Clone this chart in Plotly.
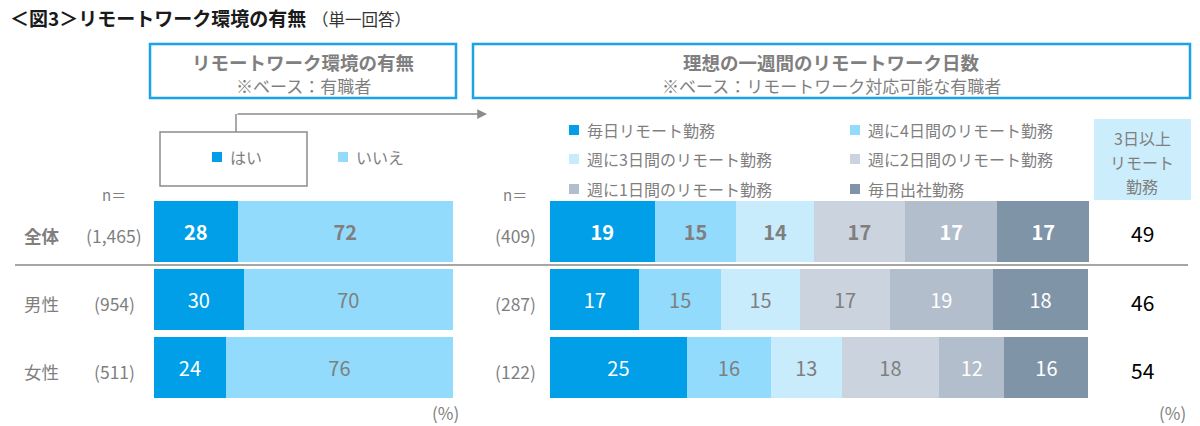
import plotly.graph_objects as go

W, H = 1200, 426
FONT = "Noto Sans CJK JP"
GRAY = "#7f7f7f"

# ---------------- data ----------------
rows = ["全体", "男性", "女性"]
n_left = ["(1,465)", "(954)", "(511)"]
n_right = ["(409)", "(287)", "(122)"]

left_series = ["はい", "いいえ"]
left_values = [[28, 30, 24], [72, 70, 76]]
left_colors = ["#009FE8", "#93DBFC"]
left_text_colors = ["#ffffff", GRAY]

right_series = ["毎日リモート勤務", "週に4日間のリモート勤務", "週に3日間のリモート勤務",
                "週に2日間のリモート勤務", "週に1日間のリモート勤務", "毎日出社勤務"]
right_values = [
    [19.4, 16.6, 25.4],
    [15.2, 15.1, 15.6],
    [14.3, 14.7, 13.1],
    [17.0, 16.7, 18.1],
    [17.1, 19.0, 12.1],
    [17.0, 17.8, 15.6],
]
right_labels = [[19, 17, 25], [15, 15, 16], [14, 15, 13], [17, 17, 18], [17, 19, 12], [17, 18, 16]]
right_colors = ["#009FE8", "#93DBFC", "#C9ECFD", "#CBD4DE", "#B2BECB", "#8094A8"]
right_text_colors = ["#ffffff", GRAY, GRAY, GRAY, "#ffffff", "#ffffff"]

three_plus = [49, 46, 54]
three_plus_header = ["3日以上", "リモート", "勤務"]

title_main = "＜図3＞リモートワーク環境の有無"
title_sub = "（単一回答）"
left_header = ["リモートワーク環境の有無", "※ベース：有職者"]
right_header = ["理想の一週間のリモートワーク日数", "※ベース：リモートワーク対応可能な有職者"]


def px(x):
    return x / W


def py(y):
    return 1 - y / H


def fmt(v, i):
    return f"<b>{v}</b>" if i == 0 else str(v)


fig = go.Figure()

for s, name in enumerate(left_series):
    fig.add_trace(go.Bar(
        y=rows, x=left_values[s], orientation="h", name=name,
        marker=dict(color=left_colors[s], line=dict(width=0)),
        text=[fmt(v, i) for i, v in enumerate(left_values[s])],
        textposition="inside", insidetextanchor="middle", textangle=0,
        constraintext="none",
        textfont=dict(family=FONT, size=20, color=left_text_colors[s]),
        xaxis="x", yaxis="y", showlegend=False, hoverinfo="skip",
    ))

for s, name in enumerate(right_series):
    fig.add_trace(go.Bar(
        y=rows, x=right_values[s], orientation="h", name=name,
        marker=dict(color=right_colors[s], line=dict(width=0)),
        text=[fmt(v, i) for i, v in enumerate(right_labels[s])],
        textposition="inside", insidetextanchor="middle", textangle=0,
        constraintext="none",
        textfont=dict(family=FONT, size=20, color=right_text_colors[s]),
        xaxis="x2", yaxis="y", showlegend=False, hoverinfo="skip",
    ))

shapes = []
ann = []

# title
ann.append(dict(text=f"<b>{title_main}</b>", x=px(8), y=py(18), xref="paper", yref="paper",
                xanchor="left", yanchor="middle", showarrow=False,
                font=dict(family=FONT, size=19, color="#1a1a1a")))
ann.append(dict(text=title_sub, x=px(310), y=py(19), xref="paper", yref="paper",
                xanchor="left", yanchor="middle", showarrow=False,
                font=dict(family=FONT, size=16.5, color="#333333")))

# header boxes
for (x0, x1, lines) in [(150, 456, left_header), (473, 1190, right_header)]:
    shapes.append(dict(type="rect", xref="paper", yref="paper", x0=px(x0), x1=px(x1),
                       y0=py(98), y1=py(44), line=dict(color="#1AA3E8", width=2.5),
                       fillcolor="rgba(0,0,0,0)"))
    cx = (x0 + x1) / 2
    ann.append(dict(text=f"<b>{lines[0]}</b>", x=px(cx), y=py(62), xref="paper", yref="paper",
                    xanchor="center", yanchor="middle", showarrow=False,
                    font=dict(family=FONT, size=18.5, color=GRAY)))
    ann.append(dict(text=lines[1], x=px(cx), y=py(85), xref="paper", yref="paper",
                    xanchor="center", yanchor="middle", showarrow=False,
                    font=dict(family=FONT, size=17, color=GRAY)))

# left legend box and arrow
shapes.append(dict(type="rect", xref="paper", yref="paper", x0=px(160), x1=px(307),
                   y0=py(186), y1=py(132), line=dict(color="#8c8c8c", width=1.5)))
shapes.append(dict(type="line", xref="paper", yref="paper", x0=px(236), x1=px(236),
                   y0=py(132), y1=py(114), line=dict(color="#8c8c8c", width=1.5)))
ann.append(dict(text="", x=px(487), y=py(114), xref="paper", yref="paper",
                ax=-(487 - 236), ay=0, showarrow=True, arrowhead=2, arrowsize=1.3,
                arrowwidth=1.5, arrowcolor="#8c8c8c"))

# left legend entries
for s, (sqx, tx) in enumerate([(212, 228), (338, 354)]):
    shapes.append(dict(type="rect", xref="paper", yref="paper", x0=px(sqx), x1=px(sqx + 10),
                       y0=py(162), y1=py(152), fillcolor=left_colors[s], line=dict(width=0)))
    ann.append(dict(text=left_series[s], x=px(tx), y=py(157), xref="paper", yref="paper",
                    xanchor="left", yanchor="middle", showarrow=False,
                    font=dict(family=FONT, size=16, color=GRAY)))

# right legend entries (2 columns x 3 rows)
col_x = [569, 850]
row_y = [130, 159, 189]
for s, name in enumerate(right_series):
    c, r = s % 2, s // 2
    sqx, yc = col_x[c], row_y[r]
    shapes.append(dict(type="rect", xref="paper", yref="paper", x0=px(sqx), x1=px(sqx + 10),
                       y0=py(yc + 5), y1=py(yc - 5), fillcolor=right_colors[s], line=dict(width=0)))
    ann.append(dict(text=name, x=px(sqx + 16), y=py(yc), xref="paper", yref="paper",
                    xanchor="left", yanchor="middle", showarrow=False,
                    font=dict(family=FONT, size=16, color=GRAY)))

# 3日以上 header box
shapes.append(dict(type="rect", xref="paper", yref="paper", x0=px(1094), x1=px(1191),
                   y0=py(200), y1=py(119), fillcolor="#CCEEFC", line=dict(width=0)))
for k, line in enumerate(three_plus_header):
    ann.append(dict(text=line, x=px(1142), y=py(138 + 24 * k), xref="paper", yref="paper",
                    xanchor="center", yanchor="middle", showarrow=False, borderpad=0,
                    font=dict(family=FONT, size=16, color=GRAY)))

# n= labels
for x in [114, 515]:
    ann.append(dict(text="n＝", x=px(x), y=py(194), xref="paper", yref="paper",
                    xanchor="center", yanchor="middle", showarrow=False,
                    font=dict(family=FONT, size=15, color=GRAY)))

# row labels
for i, r in enumerate(rows):
    ann.append(dict(text=fmt(r, i), x=px(22), y=r, xref="paper", yref="y",
                    xanchor="left", yanchor="middle", showarrow=False, yshift=-4,
                    font=dict(family=FONT, size=17.5, color=GRAY)))
    ann.append(dict(text=n_left[i], x=px(114), y=r, xref="paper", yref="y",
                    xanchor="center", yanchor="middle", showarrow=False, yshift=-4,
                    font=dict(family=FONT, size=17.5, color=GRAY)))
    ann.append(dict(text=n_right[i], x=px(515), y=r, xref="paper", yref="y",
                    xanchor="center", yanchor="middle", showarrow=False, yshift=-4,
                    font=dict(family=FONT, size=17.5, color=GRAY)))
    ann.append(dict(text=str(three_plus[i]), x=px(1142), y=r, xref="paper", yref="y",
                    xanchor="center", yanchor="middle", showarrow=False, yshift=-2,
                    font=dict(family=FONT, size=21, color="#000000")))

# separator line
shapes.append(dict(type="line", xref="paper", yref="paper", x0=px(15), x1=px(1188),
                   y0=py(265), y1=py(265), line=dict(color="#a6a6a6", width=2)))

# (%) labels
for x in [445, 1172]:
    ann.append(dict(text="(%)", x=px(x), y=py(412), xref="paper", yref="paper",
                    xanchor="center", yanchor="middle", showarrow=False,
                    font=dict(family=FONT, size=17, color=GRAY)))

fig.update_layout(
    width=W, height=H,
    margin=dict(l=0, r=0, t=0, b=0),
    paper_bgcolor="white", plot_bgcolor="white",
    barmode="stack", bargap=0.11,
    showlegend=False,
    font=dict(family=FONT, color=GRAY),
    xaxis=dict(domain=[px(154), px(453)], range=[0, 100], visible=False, anchor="y", fixedrange=True),
    xaxis2=dict(domain=[px(550), px(1089)], range=[0, 100], visible=False, anchor="y", fixedrange=True),
    yaxis=dict(domain=[py(398), py(201)], type="category", categoryorder="array",
               categoryarray=rows, range=[2.445, -0.445], visible=False, fixedrange=True),
    shapes=shapes, annotations=ann,
)

fig.write_html("out.html", config={"displayModeBar": False},
               post_script="document.body.style.margin='0';document.body.style.overflow='hidden';")
